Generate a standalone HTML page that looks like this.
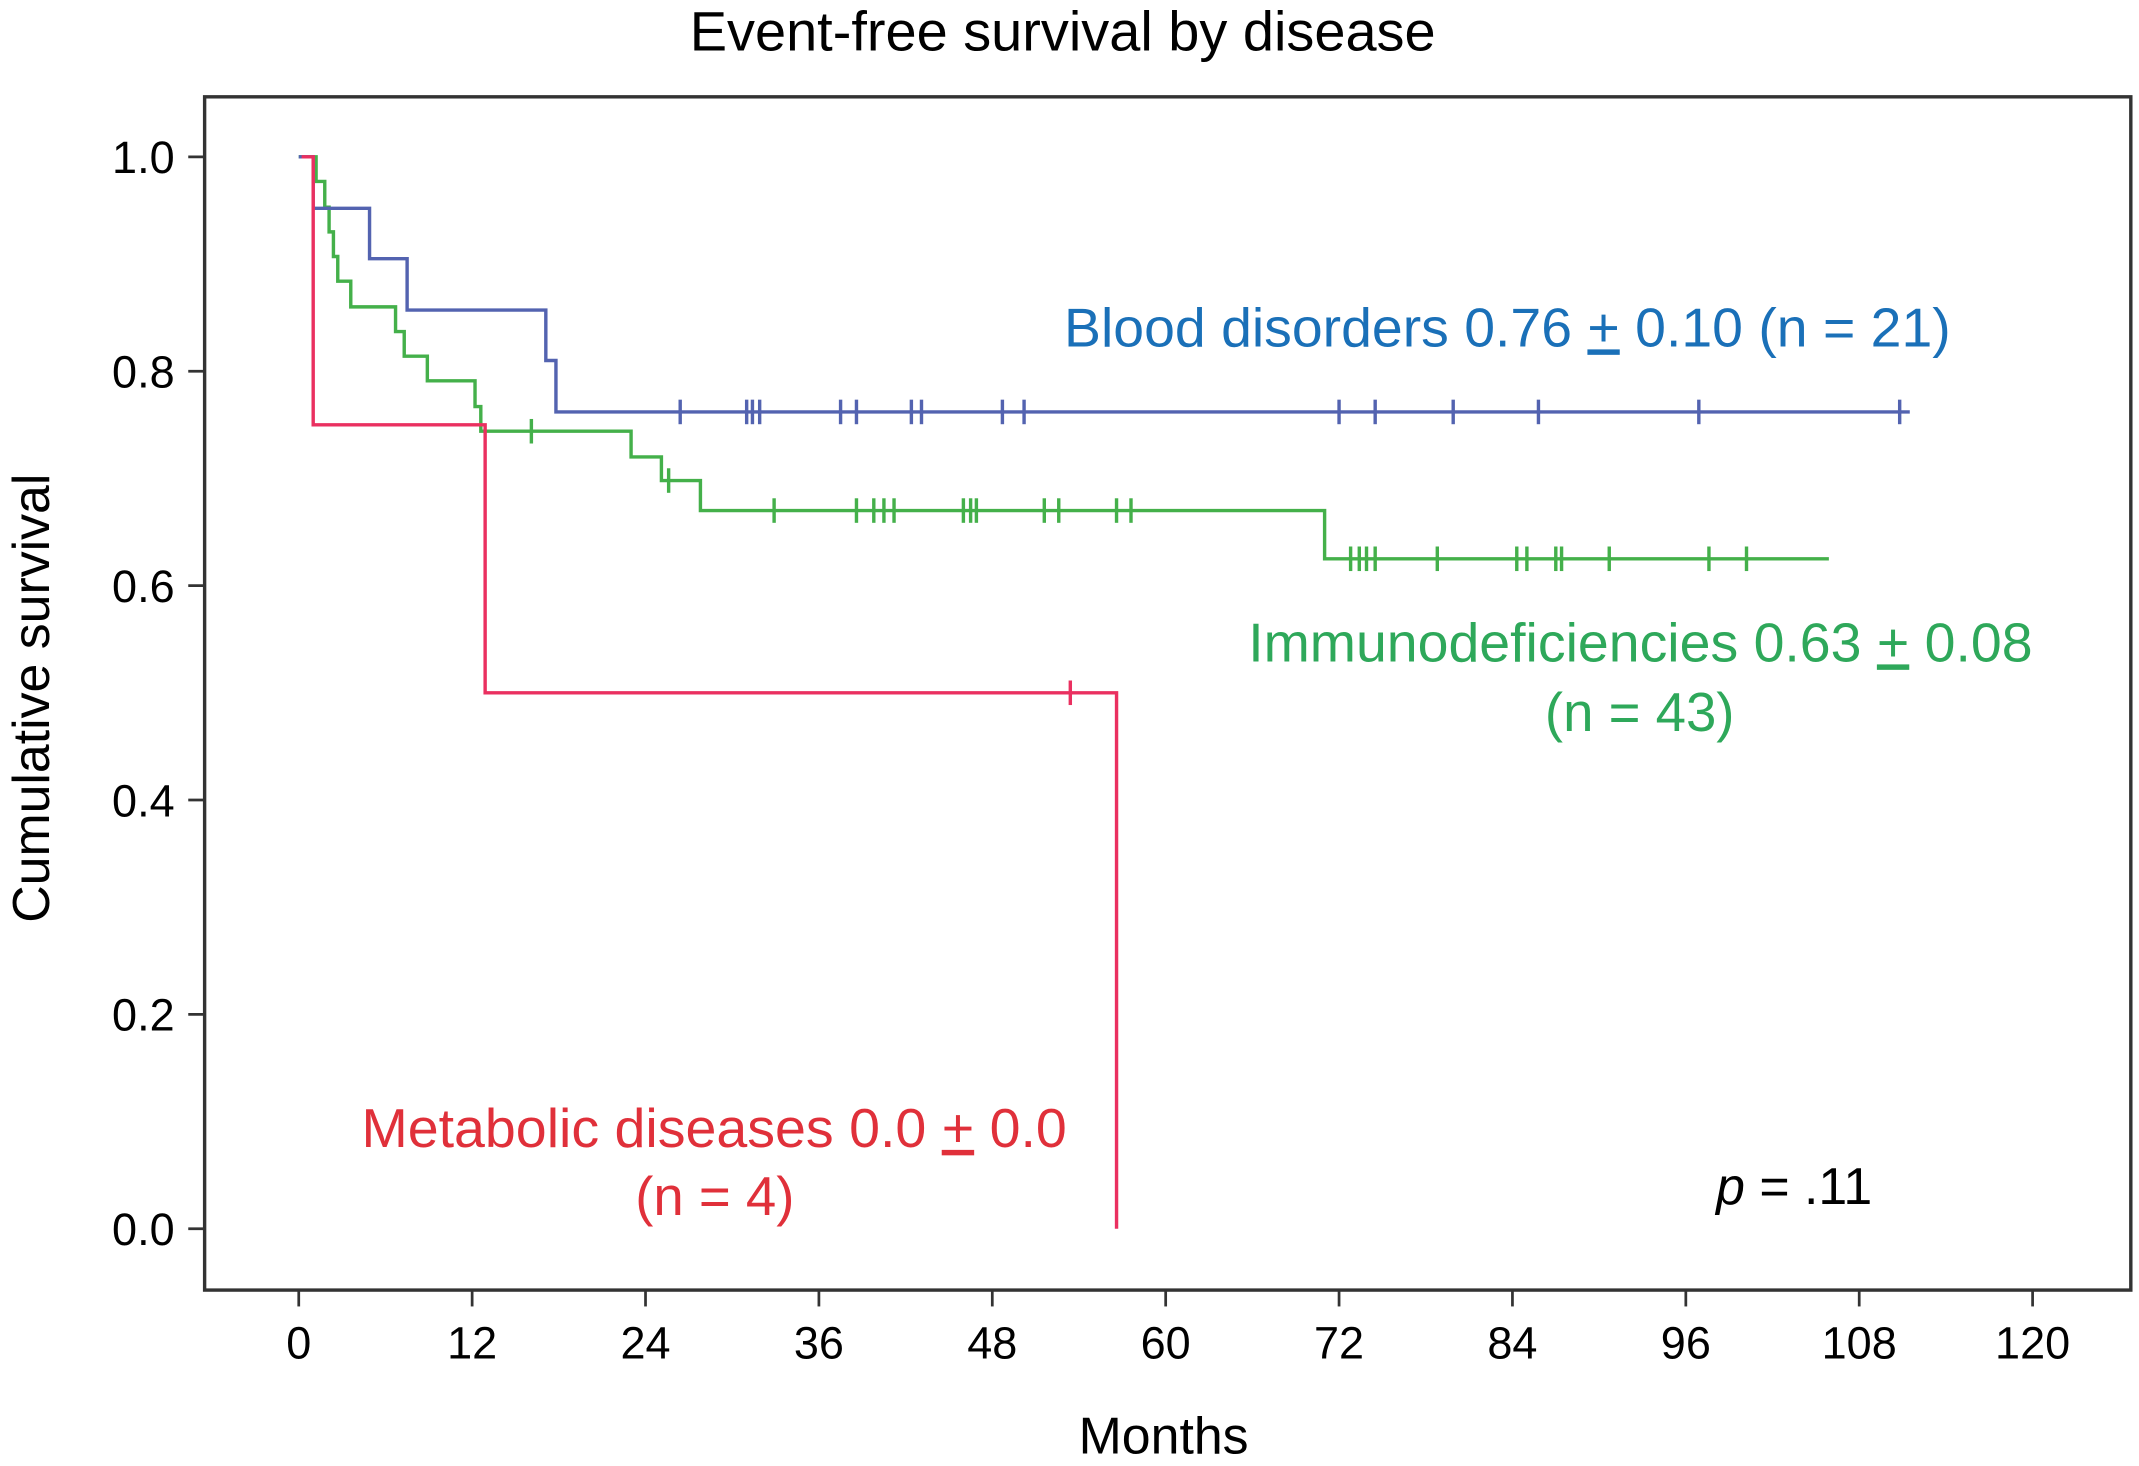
<!DOCTYPE html>
<html><head><meta charset="utf-8"><style>
html,body{margin:0;padding:0;background:#fff}
svg{display:block}
text{font-family:"Liberation Sans",Arial,sans-serif}
</style></head><body>
<svg width="2139" height="1466" viewBox="0 0 1568 1075" preserveAspectRatio="none" xmlns="http://www.w3.org/2000/svg">
<text x="779" y="37" font-size="41" text-anchor="middle" fill="#000">Event-free survival by disease</text>
<rect x="150" y="71" width="1412" height="875" fill="none" stroke="#333" stroke-width="2.5"/>
<g id="axes"></g>
<g id="series"></g>
<text transform="translate(36,512) rotate(-90)" font-size="38" text-anchor="middle">Cumulative survival</text>
<text x="853" y="1066" font-size="38" text-anchor="middle">Months</text>
<text x="780" y="254" font-size="40" fill="#1a70b8" textLength="650" lengthAdjust="spacingAndGlyphs">Blood disorders 0.76 <tspan text-decoration="underline">+</tspan> 0.10 (n = 21)</text>
<text x="915" y="485" font-size="40" fill="#2ea85a" textLength="575" lengthAdjust="spacingAndGlyphs">Immunodeficiencies 0.63 <tspan text-decoration="underline">+</tspan> 0.08</text>
<text x="1202" y="536" font-size="40" fill="#2ea85a" text-anchor="middle">(n = 43)</text>
<text x="265" y="841" font-size="40" fill="#e0303a" textLength="517" lengthAdjust="spacingAndGlyphs">Metabolic diseases 0.0 <tspan text-decoration="underline">+</tspan> 0.0</text>
<text x="524" y="891" font-size="40" fill="#e0303a" text-anchor="middle">(n = 4)</text>
<text x="1258" y="883" font-size="38"><tspan font-style="italic">p</tspan> = .11</text>
</svg>
<script>
const xTicks=[0,12,24,36,48,60,72,84,96,108,120];
const yTicks=[0,0.2,0.4,0.6,0.8,1.0];
const yTickLabels=["0.0","0.2","0.4","0.6","0.8","1.0"];
const bloodTimes=[0,1.0,4.9,7.5,17.1,17.8];
const bloodSurv=[1,0.952,0.905,0.857,0.810,0.762];
const bloodCensor=[26.4,31.0,31.4,31.9,37.5,38.6,42.4,43.1,48.7,50.2,72.0,74.5,79.9,85.8,96.9,110.8];
const bloodEnd=111.5;
const immunoTimes=[0,1.2,1.8,2.1,2.4,2.7,3.6,6.7,7.3,8.9,12.2,12.6,23.0,25.1,27.8,71.0];
const immunoSurv=[1,0.977,0.953,0.930,0.907,0.884,0.860,0.837,0.814,0.791,0.767,0.744,0.720,0.698,0.670,0.625];
const immunoCensor=[16.1,25.6,32.9,38.6,39.8,40.5,41.2,46.0,46.5,46.9,51.6,52.6,56.6,57.6,72.8,73.4,73.9,74.5,78.8,84.3,85.0,87.0,87.4,90.7,97.6,100.2];
const immunoEnd=105.9;
const metabTimes=[0.2,1.0,12.9,56.6];
const metabSurv=[1,0.75,0.5,0];
const metabCensor=[53.4];
const metabEnd=56.6;

const NS="http://www.w3.org/2000/svg";
const X=m=>219+m*(1490-219)/120;
const Y=v=>901-v*(901-115);
function mk(tag,attrs,parent){const e=document.createElementNS(NS,tag);for(const k in attrs)e.setAttribute(k,attrs[k]);parent.appendChild(e);return e;}
const axes=document.getElementById('axes');
xTicks.forEach(t=>{
  const l=mk('line',{x1:X(t),x2:X(t),y1:946,y2:958,stroke:'#333','stroke-width':2},axes);
  
  
  const tx=mk('text',{x:X(t),y:996,'font-size':33,'text-anchor':'middle'},axes);
  tx.textContent=t;
  
  
});
yTicks.forEach((t,i)=>{
  const l=mk('line',{x1:138,x2:150,y1:Y(t),y2:Y(t),stroke:'#333','stroke-width':2},axes);
  
  
  const tx=mk('text',{x:128,y:Y(t)+12,'font-size':33,'text-anchor':'end'},axes);
  tx.textContent=yTickLabels[i];
  
  
});
const series=document.getElementById('series');
function km(times,surv,end,censor,color,name){
  let d='M'+X(times[0])+','+Y(surv[0]);
  for(let i=1;i<times.length;i++){d+=' H'+X(times[i])+' V'+Y(surv[i]);}
  if(surv[surv.length-1]>0) d+=' H'+X(end);
  const p=mk('path',{d:d,fill:'none',stroke:color,'stroke-width':2.5},series);
  
  
  censor.forEach(c=>{
    let v=surv[0];
    for(let i=0;i<times.length;i++) if(times[i]<=c) v=surv[i];
    const m=mk('line',{x1:X(c),x2:X(c),y1:Y(v)-9,y2:Y(v)+9,stroke:color,'stroke-width':2.5},series);
    
    
  });
}
km(immunoTimes,immunoSurv,immunoEnd,immunoCensor,'#44b04a','immunodeficiencies');
km(bloodTimes,bloodSurv,bloodEnd,bloodCensor,'#5363b0','blood-disorders');
km(metabTimes,metabSurv,metabEnd,metabCensor,'#ea3060','metabolic-diseases');
</script>
</body></html>
